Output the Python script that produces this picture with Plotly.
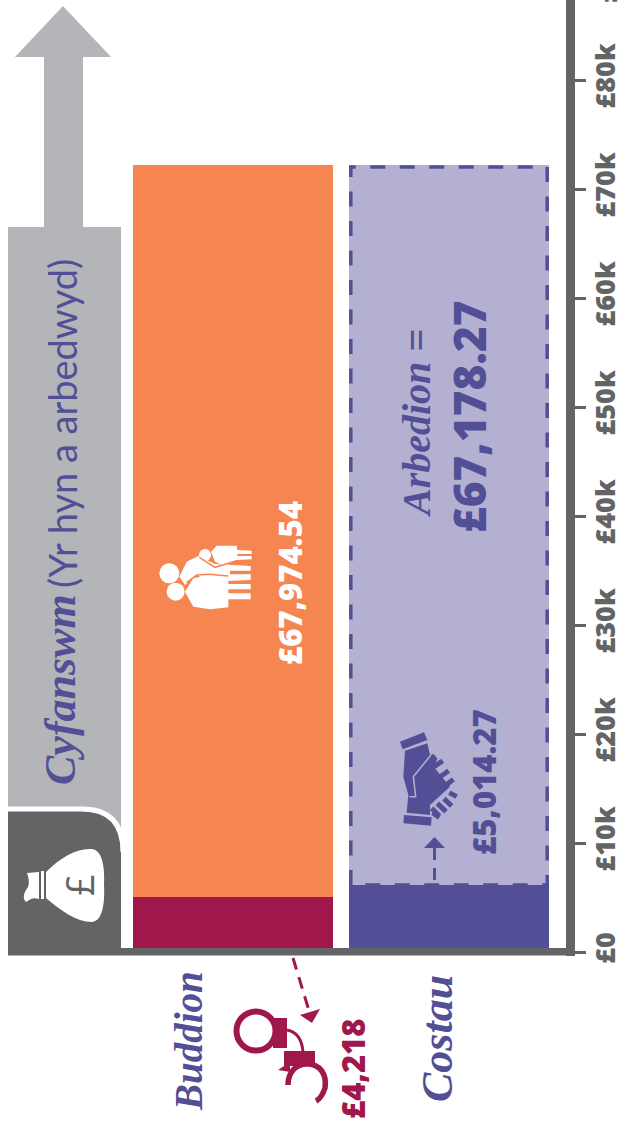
import plotly.graph_objects as go

categories = ["Buddion", "Costau"]
lower_values = [5050, 6150]          # maroon benefit-crime block, dark purple block
upper_values = [67142, 66042]        # orange block, pale purple block
tick_values = [0, 10000, 20000, 30000, 40000, 50000, 60000, 70000, 80000]
tick_labels = ["£0", "£10k", "£20k", "£30k", "£40k", "£50k", "£60k", "£70k", "£80k"]

ORANGE, MAROON, PALE, PURPLE = "#F58551", "#A0174B", "#B4B0D1", "#524F96"
GREY, DARK = "#B4B5B8", "#636466"
HAND = "Liberation Serif"
BOLD = "Open Sans"

W, H = 621, 1124
L, R, T, B = 8, 566, 0, 956
ZERO_PX = 952.0
PX_PER_UNIT = 109.0 / 10000

def px(x): return (x - L) / (R - L)
def py(y): return (B - y) / (B - T)

shapes = []

def poly(points, fill, line=None, lw=0, dash=None, close=True):
    d = "M" + " L".join(f"{px(x):.5f},{py(y):.5f}" for x, y in points) + (" Z" if close else "")
    shapes.append(dict(type="path", xref="paper", yref="paper", path=d,
                       fillcolor=fill if close else "rgba(0,0,0,0)",
                       line=dict(color=line or "rgba(0,0,0,0)", width=lw, dash=dash or "solid"),
                       layer="above"))

def curve(cmds, fill=None, line=None, lw=0):
    parts = []
    for c in cmds:
        if isinstance(c, str):
            parts.append(c)
        else:
            parts.append(f"{px(c[0]):.5f},{py(c[1]):.5f}")
    shapes.append(dict(type="path", xref="paper", yref="paper", path=" ".join(parts),
                       fillcolor=fill or "rgba(0,0,0,0)",
                       line=dict(color=line or "rgba(0,0,0,0)", width=lw), layer="above"))

def circle(cx, cy, r, fill=None, line=None, lw=0):
    shapes.append(dict(type="circle", xref="paper", yref="paper",
                       x0=px(cx - r), x1=px(cx + r), y0=py(cy + r), y1=py(cy - r),
                       fillcolor=fill or "rgba(0,0,0,0)",
                       line=dict(color=line or "rgba(0,0,0,0)", width=lw), layer="above"))

# Total arrow and panel
poly([(63, 6), (111, 57), (83, 57), (83, 227), (121, 227), (121, 950), (8, 950), (8, 227),
      (44, 227), (44, 57), (15, 57)], GREY)
curve(["M", (8, 811), "L", (82, 811), "Q", (121, 811), (121, 852), "L", (121, 950), "L", (8, 950), "Z"], fill=DARK)
curve(["M", (8, 809), "L", (82, 809), "Q", (123, 809), (123, 852)], line="white", lw=5)

# Money bag
curve(["M", (46, 872), "C", (60, 858), (76, 848), (92, 849), "C", (103, 850), (105, 870), (104, 885),
       "C", (105, 902), (103, 921), (92, 922), "C", (76, 922), (60, 910), (46, 898), "Z"], fill="white")
poly([(41, 871), (44, 871), (44, 899), (41, 899)], "white")
curve(["M", (39, 872), "L", (39, 899), "C", (32, 897), (30, 900), (26, 902), "C", (22, 898), (24, 892), (28, 887),
       "C", (30, 882), (28, 876), (27, 873), "Z"], fill="white")

# Dashed outline of the Costau upper block
inset = 1.8
top_px = ZERO_PX - PX_PER_UNIT * (lower_values[1] + upper_values[1])
low_px = ZERO_PX - PX_PER_UNIT * lower_values[1]
curve(["M", (349 + inset, low_px), "L", (349 + inset, top_px + inset), "L", (549 - inset, top_px + inset),
       "L", (549 - inset, low_px), "L", (349 + inset, low_px), "Z"], line=PURPLE, lw=3.5)
shapes[-1]["line"]["dash"] = "15px,14.5px"

# Baseline
poly([(8, 948), (575, 948), (575, 955.5), (8, 955.5)], DARK)

# Dashed arrow in Costau
poly([(434.5, 880), (434.5, 848)], None, line=PURPLE, lw=3, dash="12px,8px", close=False)
poly([(434.5, 837), (445, 848), (424, 848)], PURPLE)

# Handshake (zoom coordinates -> page)
def hs(x, y): return (350 + x / 3, 680 + y / 3)
poly([hs(*p) for p in [(150, 185), (222, 157), (232, 180), (158, 208)]], PURPLE)
poly([hs(*p) for p in [(162, 405), (245, 412), (243, 437), (160, 430)]], PURPLE)
poly([hs(*p) for p in [(165, 212), (232, 190), (240, 225), (250, 222), (262, 235), (252, 262), (300, 320),
                       (240, 375), (240, 405), (170, 398), (175, 345), (160, 290)]], PURPLE)
poly([hs(*p) for p in [(243, 225), (190, 290), (197, 350), (178, 350)]], None, line=PALE, lw=1.5, close=False)
for a, b in [((250, 262), (278, 242)), ((268, 292), (296, 272)), ((285, 318), (310, 298)), ((248, 398), (268, 412)),
             ((245, 385), (268, 408)), ((262, 370), (288, 395)), ((282, 356), (305, 378)), ((298, 338), (320, 350))]:
    poly([hs(*a), hs(*b)], None, line=PURPLE, lw=5, close=False)

# Family
def fam(x, y): return (130 + x / 3, 480 + y / 3)
circle(*fam(118, 280), 10, fill="white")
circle(*fam(137, 335), 9, fill="white")
circle(*fam(225, 225), 6, fill="white")
poly([fam(*p) for p in [(148, 290), (170, 245), (205, 228), (255, 252), (362, 258), (362, 272), (300, 272),
                        (300, 283), (362, 283), (362, 300), (240, 305), (200, 285), (165, 315)]], "white")
poly([fam(*p) for p in [(165, 335), (190, 295), (240, 285), (295, 290), (295, 312), (362, 312), (362, 328),
                        (295, 328), (295, 340), (362, 340), (362, 358), (295, 358), (295, 382), (240, 388), (190, 380)]], "white")
poly([fam(*p) for p in [(243, 215), (260, 197), (320, 197), (322, 210), (365, 212), (365, 222), (322, 222),
                        (322, 228), (365, 228), (365, 238), (320, 240), (285, 258), (255, 245)]], "white")
poly([fam(*p) for p in [(170, 308), (200, 285), (240, 283), (295, 288)]], None, line=ORANGE, lw=1.5, close=False)
poly([fam(*p) for p in [(208, 232), (255, 262), (320, 242)]], None, line=ORANGE, lw=1.5, close=False)

# Handcuffs and arrow
poly([(293, 958), (310, 1014)], None, line=MAROON, lw=3, dash="12px,8px", close=False)
poly([(300, 1015), (320, 1009), (312, 1023)], MAROON)
circle(256, 1031, 19.5, line=MAROON, lw=6)
poly([(273, 1018), (287, 1018), (287, 1048), (273, 1048)], MAROON)
curve(["M", (287, 1030), "C", (298, 1032), (302, 1040), (303, 1052)], line=MAROON, lw=3)
poly([(284, 1051), (315, 1051), (315, 1066), (284, 1066)], MAROON)
curve(["M", (288, 1085), "C", (288, 1072), (296, 1064), (307, 1064), "C", (320, 1064), (327, 1074), (325, 1088),
       "C", (323, 1094), (320, 1099), (316, 1101)], line=MAROON, lw=5.5)
poly([(278, 1070), (290, 1062), (290, 1072)], MAROON)

annotations = []

def text(x, y, s, size, color, family=BOLD, weight=700, style="normal"):
    annotations.append(dict(xref="paper", yref="paper", x=px(x), y=py(y), text=s, showarrow=False,
                            textangle=-90, xanchor="center", yanchor="middle",
                            font=dict(family=family, size=size, color=color, weight=weight, style=style)))

text(290, 583, "£67,974.54", 31, "white", weight=800)
text(469, 417, "£67,178.27", 44, PURPLE, weight=800)
text(484, 782, "£5,014.27", 31, PURPLE, weight=800)
text(353, 1069, "£4,218", 31, MAROON, weight=800)
text(79, 885, "£", 38, DARK, family="Open Sans", weight=400)
text(606, -29, "£90k", 27, DARK, weight=800)

text(188, 1041, "Buddion", 39, PURPLE, family=HAND, weight=700, style="italic")
text(437, 1039, "Costau", 44, PURPLE, family=HAND, weight=700, style="italic")
text(416, 424, "Arbedion =", 40, PURPLE, family=HAND, weight=700, style="italic")
text(60, 690, "Cyfanswm", 44, PURPLE, family=HAND, weight=700, style="italic")
text(62, 424, "(Yr hyn a arbedwyd)", 38, PURPLE, family="Lato", weight=400)

fig = go.Figure()
fig.add_trace(go.Bar(x=categories, y=lower_values, marker=dict(color=[MAROON, PURPLE], line=dict(width=0)),
                     width=200 / 216, hoverinfo="skip"))
fig.add_trace(go.Bar(x=categories, y=upper_values, marker=dict(color=[ORANGE, PALE], line=dict(width=0)),
                     width=200 / 216, hoverinfo="skip"))

fig.update_layout(
    barmode="stack", width=W, height=H, autosize=False, showlegend=False,
    paper_bgcolor="white", plot_bgcolor="white",
    margin=dict(l=L, r=W - R, t=T, b=H - B, pad=0, autoexpand=False),
    shapes=shapes, annotations=annotations,
    xaxis=dict(type="category", categoryorder="array", categoryarray=categories, automargin=False,
               range=[(L - 232.7) / 216, (R - 232.7) / 216],
               showticklabels=False, showgrid=False, zeroline=False, showline=False, ticks=""),
    yaxis=dict(side="right", automargin=False,
               range=[-(B - ZERO_PX) / PX_PER_UNIT, (ZERO_PX - T) / PX_PER_UNIT],
               tickvals=tick_values, ticktext=tick_labels, tickangle=-90,
               tickfont=dict(family=BOLD, size=27, color=DARK, weight=800),
               ticks="outside", ticklen=11, tickwidth=3, tickcolor=DARK, ticklabelstandoff=-3,
               showline=True, linewidth=9, linecolor=DARK,
               showgrid=False, zeroline=False),
)
fig.write_html("out.html", config=dict(displayModeBar=False),
               post_script="document.body.style.margin='0';document.documentElement.style.overflow='hidden';")
